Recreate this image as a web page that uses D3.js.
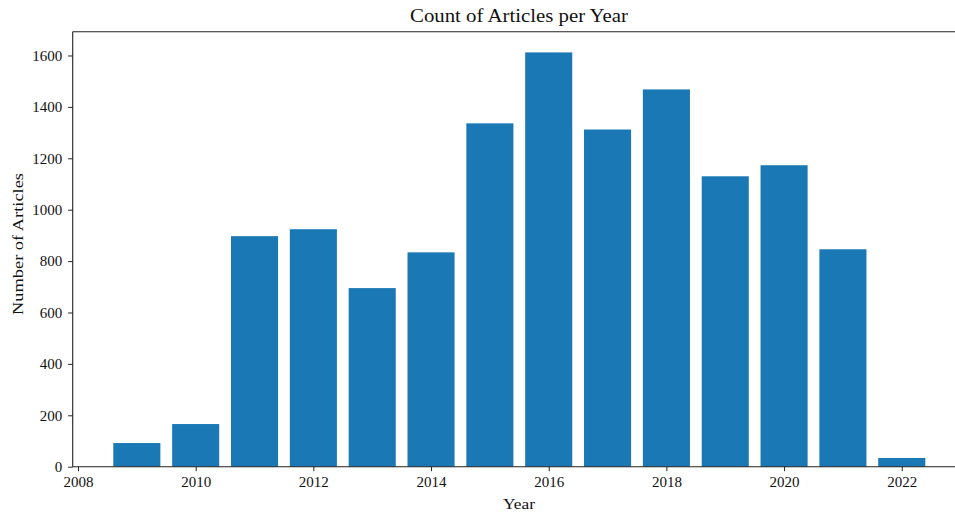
<!DOCTYPE html>
<html>
<head>
<meta charset="utf-8">
<script src="https://cdn.jsdelivr.net/npm/d3@7"></script>
<style>
  html, body { margin: 0; padding: 0; background: #fff; overflow: hidden; }
  svg { display: block; font-family: "Liberation Serif", "DejaVu Serif", serif; }
</style>
</head>
<body>
<svg id="chart" width="955" height="512"></svg>
<script>
// Articles published per year
const years = [2009, 2010, 2011, 2012, 2013, 2014, 2015, 2016, 2017, 2018, 2019, 2020, 2021, 2022];
const counts = [92, 166, 897, 924, 695, 834, 1336, 1612, 1312, 1468, 1130, 1173, 846, 34];
const xTicks = [2008, 2010, 2012, 2014, 2016, 2018, 2020, 2022];
const yTicks = [0, 200, 400, 600, 800, 1000, 1200, 1400, 1600];

const titleText = "Count of Articles per Year";
const xLabel = "Year";
const yLabel = "Number of Articles";

const svg = d3.select("#chart");
const barWidth = 0.8;

// axes box
const plotLeft = 72.7, plotRight = 965.9, plotTop = 31.7, plotBottom = 466.7;

const span = (d3.max(years) + barWidth / 2) - (d3.min(years) - barWidth / 2);
const x = d3.scaleLinear()
  .domain([d3.min(years) - barWidth / 2 - 0.05 * span, d3.max(years) + barWidth / 2 + 0.05 * span])
  .range([plotLeft, plotRight]);
const y = d3.scaleLinear()
  .domain([0, d3.max(counts) * 1.05])
  .range([plotBottom, plotTop]);

const data = years.map((yr, i) => ({ year: yr, count: counts[i] }));

// bars
svg.append("g")
  .selectAll("rect")
  .data(data)
  .join("rect")
  .attr("x", d => x(d.year - barWidth / 2))
  .attr("width", d => x(d.year + barWidth / 2) - x(d.year - barWidth / 2))
  .attr("y", d => y(d.count))
  .attr("height", d => y(0) - y(d.count))
  .attr("fill", "#1a78b4");

// x axis
const xAxis = svg.append("g")
  .attr("transform", `translate(0,${plotBottom})`)
  .call(d3.axisBottom(x).tickValues(xTicks).tickFormat(d3.format("d")).tickSizeOuter(0).tickSize(4.5).tickPadding(5));

// y axis
const yAxis = svg.append("g")
  .attr("transform", `translate(${plotLeft},0)`)
  .call(d3.axisLeft(y).tickValues(yTicks).tickFormat(d3.format("d")).tickSizeOuter(0).tickSize(4.5).tickPadding(6));

[xAxis, yAxis].forEach(g => {
  g.select(".domain").remove();
  g.selectAll(".tick line").attr("stroke", "#222").attr("stroke-width", 1);
  g.selectAll(".tick text").attr("fill", "#111").style("font-size", "15px")
    .style("font-family", "'Liberation Serif', serif");
});

// spines: left, bottom, top
svg.append("line").attr("x1", plotLeft).attr("x2", plotLeft).attr("y1", plotTop).attr("y2", plotBottom)
  .attr("stroke", "#222").attr("stroke-width", 1.1);
svg.append("line").attr("x1", plotLeft).attr("x2", plotRight).attr("y1", plotBottom).attr("y2", plotBottom)
  .attr("stroke", "#222").attr("stroke-width", 1.1);
svg.append("line").attr("x1", plotLeft).attr("x2", plotRight).attr("y1", plotTop).attr("y2", plotTop)
  .attr("stroke", "#222").attr("stroke-width", 1.1);

// title and labels
svg.append("text")
  .attr("x", 519).attr("y", 22)
  .attr("text-anchor", "middle")
  .attr("textLength", 218).attr("lengthAdjust", "spacingAndGlyphs")
  .style("font-size", "18.5px").attr("fill", "#111")
  .text(titleText);

svg.append("text")
  .attr("x", 519).attr("y", 509)
  .attr("text-anchor", "middle")
  .attr("textLength", 32).attr("lengthAdjust", "spacingAndGlyphs")
  .style("font-size", "15.5px").attr("fill", "#111")
  .text(xLabel);

svg.append("text")
  .attr("transform", `translate(23,244) rotate(-90)`)
  .attr("text-anchor", "middle")
  .attr("textLength", 142).attr("lengthAdjust", "spacingAndGlyphs")
  .style("font-size", "15.5px").attr("fill", "#111")
  .text(yLabel);
</script>
</body>
</html>
